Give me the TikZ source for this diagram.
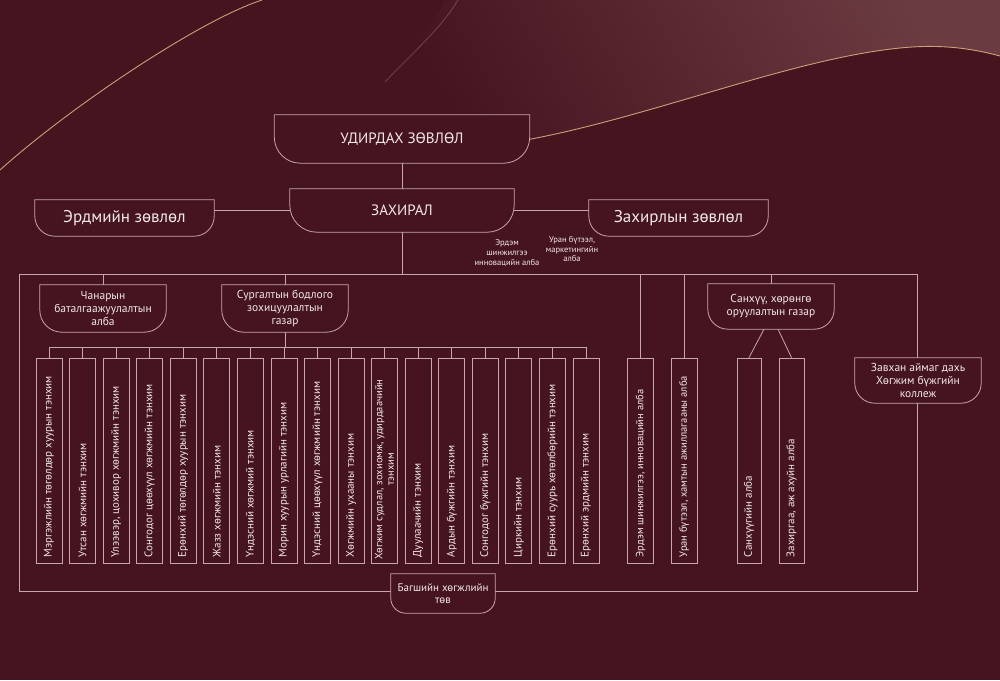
\documentclass[tikz,border=0pt]{standalone}
\usepackage{fontspec}
\setmainfont{PT Sans}
\usetikzlibrary{calc}
\definecolor{bgc}{HTML}{45141F}
\definecolor{lightc}{HTML}{6B3B42}
\definecolor{linec}{HTML}{C7A7AC}
\definecolor{txtc}{HTML}{F2E8E8}
\definecolor{goldc}{HTML}{C9A07A}
\pgfdeclarelayer{back}
\pgfdeclarelayer{mid}
\pgfsetlayers{back,mid,main}
\newcommand\bowlpath[2]{%
  \draw[lin,fill=bgc] (#1.north west) -- (#1.north east) -- ($(#1.south east)+(0,-#2)$)
    .. controls ($(#1.south east)+(0,-0.45*#2)$) and ($(#1.south east)+(-0.45*#2,0)$) .. ($(#1.south east)+(-#2,0)$)
    -- ($(#1.south west)+(#2,0)$)
    .. controls ($(#1.south west)+(0.45*#2,0)$) and ($(#1.south west)+(0,-0.45*#2)$) .. ($(#1.south west)+(0,-#2)$)
    -- cycle;}
\begin{document}
\begin{tikzpicture}[x=1pt,y=-1pt,
  lin/.style={draw=linec,line width=0.8pt},
  bowlnode/.style={inner sep=0pt,align=center,text=txtc},
  vbox/.style={lin,minimum width=26pt,minimum height=205pt,inner sep=0pt},
  vtext/.style={rotate=90,anchor=west,inner sep=0pt,text=txtc,font=\fontsize{11}{12.5}\selectfont},
  small/.style={inner sep=0pt,align=center,text=txtc,font=\fontsize{8.5}{9.8}\selectfont},
]
\useasboundingbox (0,0) rectangle (1000,680);
\begin{pgfonlayer}{back}
  \fill[bgc] (0,0) rectangle (1000,680);
  \shade[top color=lightc,bottom color=bgc,shading angle=-60]
    (445,0) .. controls (425,35) and (400,60) .. (380,85)
    .. controls (420,130) and (460,148) .. (487,146)
    .. controls (620,130) and (780,60) .. (900,48)
    .. controls (940,44) and (970,48) .. (1000,56) -- (1000,0) -- cycle;
  \draw[goldc,line width=0.9pt] (0,170) .. controls (70,107) and (200,20) .. (262,0);
  \draw[goldc,line width=0.9pt] (487,146) .. controls (620,130) and (780,60) .. (900,48)
    .. controls (940,44) and (970,48) .. (1000,56);
  \draw[white,opacity=0.25,line width=0.6pt] (458,0) .. controls (440,30) and (410,55) .. (385,82);
\end{pgfonlayer}

% top boxes
\node[bowlnode,minimum width=255pt,minimum height=48pt,font=\fontsize{15}{18}\selectfont] (ud) at (402,139) {УДИРДАХ ЗӨВЛӨЛ};
\node[bowlnode,minimum width=224pt,minimum height=43pt,font=\fontsize{15}{18}\selectfont] (dir) at (402,210.5) {ЗАХИРАЛ};
\node[bowlnode,minimum width=179pt,minimum height=36pt,font=\fontsize{17}{20}\selectfont] (erd) at (124.5,218) {Эрдмийн зөвлөл};
\node[bowlnode,minimum width=179pt,minimum height=36pt,font=\fontsize{17}{20}\selectfont] (zah) at (678.5,218) {Захирлын зөвлөл};
\node[small] (lab1) at (507,253) {Эрдэм\\шинжилгээ\\инновацийн алба};
\node[small] (lab2) at (572,249) {Уран бүтээл,\\маркетингийн\\алба};

% second level
\node[bowlnode,minimum width=126pt,minimum height=47pt,font=\fontsize{11.5}{13}\selectfont] (chan) at (103,308.5) {Чанарын\\баталгаажуулалтын\\алба};
\node[bowlnode,minimum width=126pt,minimum height=47pt,font=\fontsize{11.5}{13}\selectfont] (sur) at (285,308.5) {Сургалтын бодлого\\зохицуулалтын\\газар};
\node[bowlnode,minimum width=126pt,minimum height=45pt,font=\fontsize{11.5}{13}\selectfont] (san) at (771,306.5) {Санхүү, хөрөнгө\\оруулалтын газар};
\node[bowlnode,minimum width=126pt,minimum height=45pt,font=\fontsize{11.5}{13}\selectfont] (zav) at (918,380.5) {Завхан аймаг дахь\\Хөгжим бүжгийн\\коллеж};
\node[bowlnode,minimum width=104pt,minimum height=39pt,font=\fontsize{11}{12.5}\selectfont] (bag) at (443,593.5) {Багшийн хөгжлийн\\төв};

\coordinate (frnw) at (19,274);
\coordinate (frse) at (917,591);
\coordinate (sbl) at (49,347);
\coordinate (sbr) at (586,347);

% department boxes
\foreach \i/\t [evaluate=\i as \xx using 49+33.56*(\i-1)] in {
  1/{Мэргэжлийн төгөлдөр хуурын тэнхим},
  2/{Утсан хөгжмийн тэнхим},
  3/{Үлээвэр, цохивор хөгжмийн тэнхим},
  4/{Сонгодог цөөхүүл хөгжмийн тэнхим},
  5/{Ерөнхий төгөлдөр хуурын тэнхим},
  6/{Жазз хөгжмийн тэнхим},
  7/{Үндэсний хөгжмий тэнхим},
  8/{Морин хуурын урлагийн тэнхим},
  9/{Үндэсний цөөхүүл хөгжмийн тэнхим},
  10/{Хөгжмийн ухааны тэнхим},
  12/{Дуулаачийн тэнхим},
  13/{Ардын бүжгийн тэнхим},
  14/{Сонгодог бүжгийн тэнхим},
  15/{Циркийн тэнхим},
  16/{Ерөнхий суурь хөтөлбөрийн тэнхим},
  17/{Ерөнхий эрдмийн тэнхим}} {
  \node[vbox] (v\i) at (\xx,460.5) {};
  \node[vtext] (t\i) at ($(v\i.south)+(0,-6)$) {\t};
}
\node[vbox] (v11) at (49+33.56*10,460.5) {};
\node[vtext,align=center,font=\fontsize{10.5}{11.5}\selectfont] (t11) at ($(v11.south)+(0,-4)$) {Хөгжим судлал, зохиомж, удирдаачийн\\тэнхим};

\node[vbox] (er) at (640.5,460.5) {};
\node[vtext,font=\fontsize{10.5}{12}\selectfont] (ert) at ($(er.south)+(0,-6)$) {Эрдэм шинжилгээ, инновацийн алба};
\node[vbox] (ur) at (684,460.5) {};
\node[vtext,font=\fontsize{10.5}{12}\selectfont] (urt) at ($(ur.south)+(0,-6)$) {Уран бүтээл, хамтын ажиллагааны алба};
\node[vbox,minimum width=24pt] (sa1) at (749,460.5) {};
\node[vtext] (sa1t) at ($(sa1.south)+(0,-6)$) {Санхүүгийн алба};
\node[vbox,minimum width=25pt] (sa2) at (791.5,460.5) {};
\node[vtext] (sa2t) at ($(sa2.south)+(0,-6)$) {Захиргаа, аж ахуйн алба};

\begin{pgfonlayer}{mid}
  % frame
  \draw[lin] (frnw) rectangle (frse);
  \draw[lin] (ud.south) -- (dir.north);
  \draw[lin] (dir.south) -- (dir.south |- frnw);
  \draw[lin] (dir.west) -- (dir.west -| erd.east);
  \draw[lin] (dir.east) -- (dir.east -| zah.west);
  \draw[lin] (chan.north) -- (chan.north |- frnw);
  \draw[lin] (sur.north) -- (sur.north |- frnw);
  \draw[lin] (sur.south) -- (sur.south |- sbl);
  \draw[lin] (sbl) -- (sbr);
  \foreach \i in {1,...,17} {\draw[lin] (v\i.north) -- (v\i.north |- sbl);}
  \draw[lin] (er.north) -- (er.north |- frnw);
  \draw[lin] (ur.north) -- (ur.north |- frnw);
  \draw[lin] (san.north) -- (san.north |- frnw);
  \draw[lin] ($(san.south)+(-7,0)$) -- (sa1.north);
  \draw[lin] ($(san.south)+(7,0)$) -- (sa2.north);
  % bowl shapes
  \bowlpath{ud}{26}
  \bowlpath{dir}{27}
  \bowlpath{erd}{20}
  \bowlpath{zah}{20}
  \bowlpath{chan}{22}
  \bowlpath{sur}{22}
  \bowlpath{san}{20}
  \bowlpath{zav}{20}
  \bowlpath{bag}{15}
\end{pgfonlayer}
\end{tikzpicture}
\end{document}
